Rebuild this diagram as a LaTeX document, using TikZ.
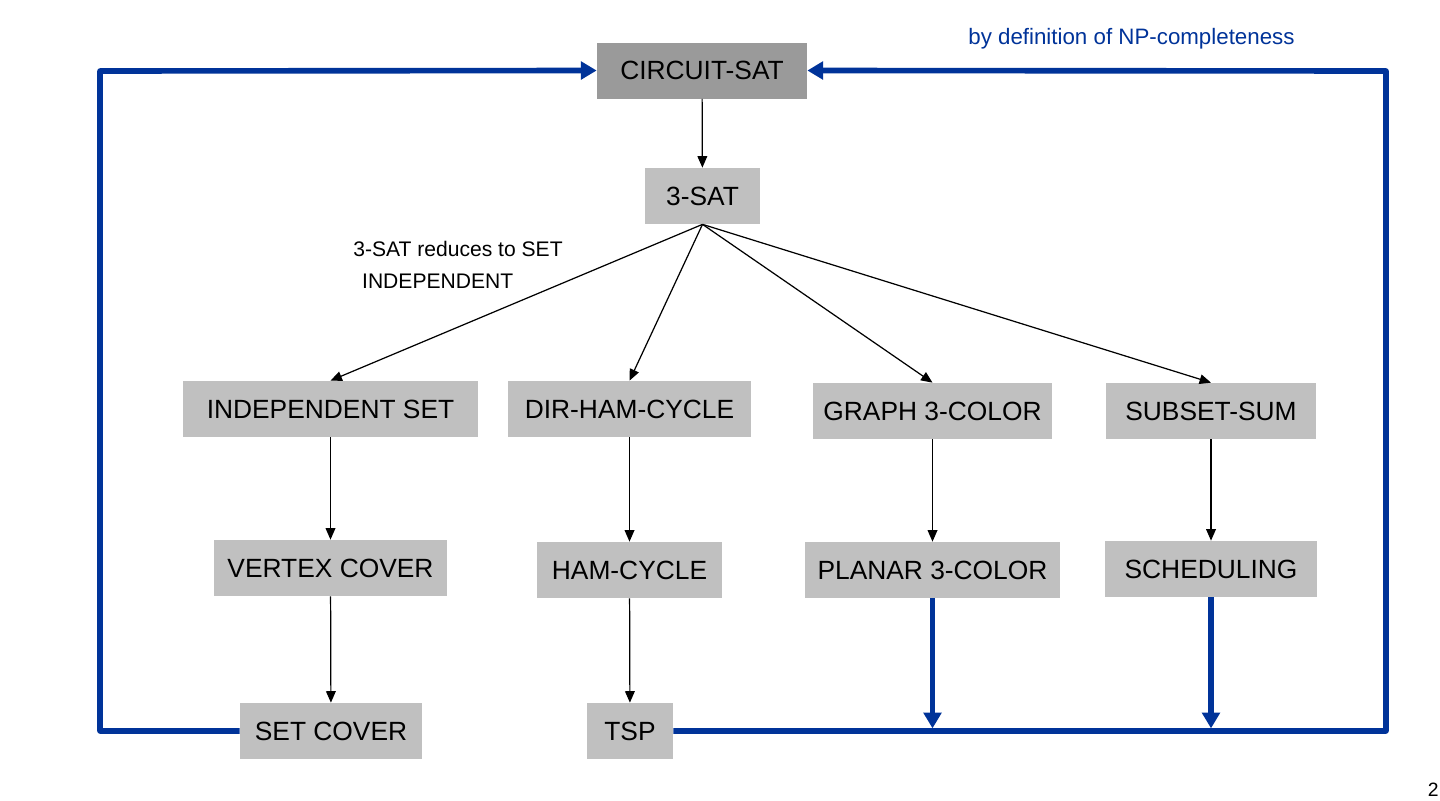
\documentclass[tikz,border=0pt]{standalone}
\usepackage{fontspec}
\setmainfont{Liberation Sans}
\usetikzlibrary{arrows.meta}
\definecolor{npblue}{RGB}{0,51,153}
\definecolor{boxgray}{RGB}{192,192,192}
\definecolor{topgray}{RGB}{154,154,154}

\begin{document}
\begin{tikzpicture}[x=0.02cm,y=-0.02cm]
    \tikzstyle{problem}=[rectangle,fill=boxgray,minimum height=56*0.02cm,inner sep=0pt,
        font=\fontsize{15}{18}\selectfont]
    \tikzstyle{reduce}=[-{Triangle[width=5.5pt,length=6.5pt]},black,line width=0.7pt]
    \tikzstyle{npline}=[npblue,line width=3.2pt,line join=round]
    \tikzstyle{nparrow}=[npline,-{Triangle[width=10pt,length=9pt]}]
    \tikzstyle{annot}=[font=\fontsize{12}{18}\selectfont,align=left,inner sep=0pt]

    \fill[white] (0,0) rectangle (1440,801);
    \useasboundingbox (0,0) rectangle (1440,801);

    \node[problem,fill=topgray,minimum width=210*0.02cm] (CS) at (702,70.5) {CIRCUIT-SAT};
    \node[problem,minimum width=115*0.02cm] (SAT) at (702.5,196) {3-SAT};

    % second row
    \foreach \name/\x/\y/\w/\txt in {IS/330.5/409/295/INDEPENDENT SET,
                                     DHC/629.5/409/243/DIR-HAM-CYCLE,
                                     G3C/932.5/411/239/GRAPH 3-COLOR,
                                     SS/1211/411/210/SUBSET-SUM}
        \node[problem,minimum width=\w*0.02cm] (\name) at (\x,\y) {\txt};

    % third row
    \foreach \name/\x/\y/\w/\txt in {VC/330.5/568/233/VERTEX COVER,
                                     HC/629.5/570/185/HAM-CYCLE,
                                     P3C/932.5/570/255/PLANAR 3-COLOR,
                                     SCH/1211/569/212/SCHEDULING}
        \node[problem,minimum width=\w*0.02cm] (\name) at (\x,\y) {\txt};

    % bottom row
    \node[problem,minimum width=182*0.02cm] (SC) at (331,731) {SET COVER};
    \node[problem,minimum width=86*0.02cm] (TSP) at (630,731) {TSP};

    \draw[reduce] (CS) -- (SAT);
    \foreach \dest in {IS,DHC,G3C,SS}
        \draw[reduce] (SAT.south) -- (\dest.north);
    \draw[reduce] (IS) -- (VC);
    \draw[reduce] (VC) -- (SC);
    \draw[reduce] (DHC) -- (HC);
    \draw[reduce] (HC) -- (TSP);
    \draw[reduce] (G3C) -- (P3C);
    \draw[reduce] (SS) -- (SCH);

    % back to circuit-sat
    \coordinate (L) at (100,71);
    \coordinate (R) at (1386,71);
    \draw[nparrow] (SC.west) -| (L) -- (CS.west);
    \draw[nparrow] (TSP.east) -| (R) -- (CS.east);
    \draw[nparrow,shorten >=1.5pt] (P3C.south) -- (P3C.south |- TSP.east);
    \draw[nparrow,shorten >=1.5pt] (SCH.south) -- (SCH.south |- TSP.east);

    % labels
    \node[annot,anchor=west] (note) at (353,265) {3-SAT reduces to SET\\\hspace{5pt}INDEPENDENT};
    \node[annot,anchor=west,text=npblue,font=\fontsize{12.7}{15}\selectfont] (def) at (968,39) {by definition of NP-completeness};
    \node[anchor=east,inner sep=0pt,font=\fontsize{11}{13}\selectfont] (page) at (1439,790) {2};
\end{tikzpicture}
\end{document}
